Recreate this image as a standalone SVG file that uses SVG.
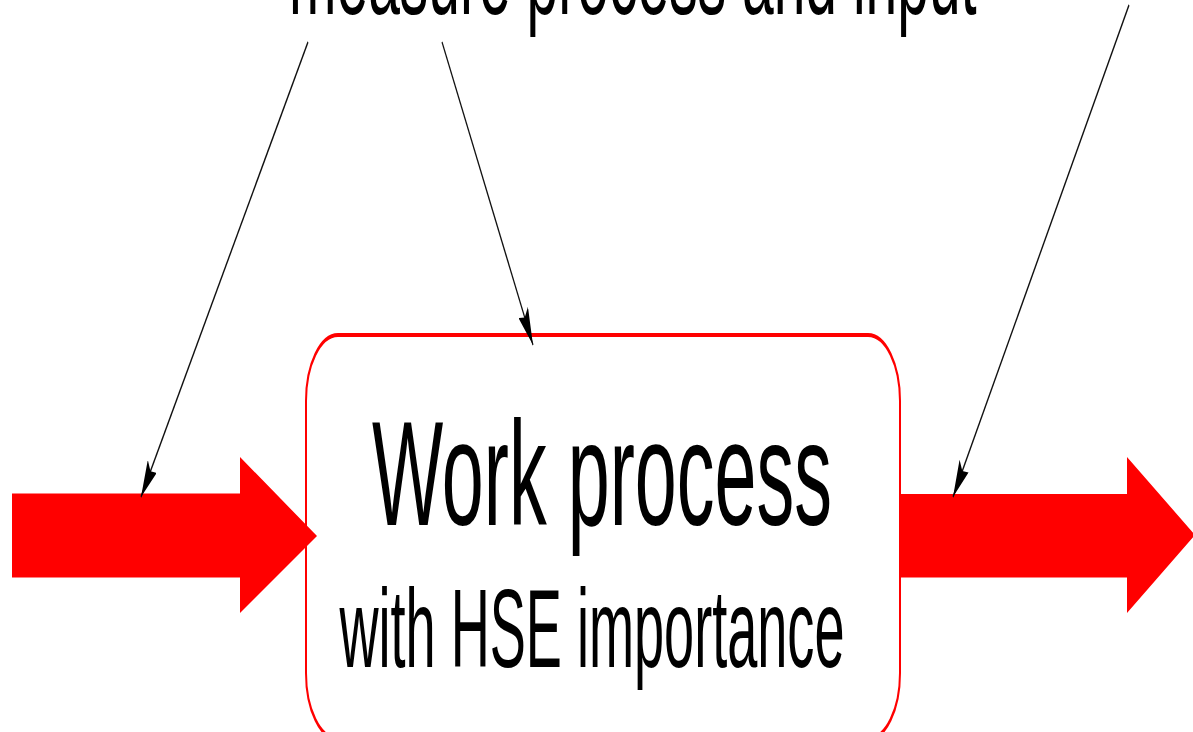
<svg xmlns="http://www.w3.org/2000/svg" width="1193" height="732" viewBox="0 0 1193 732">
<style>
.t{font-family:"Liberation Sans",Arial,sans-serif;fill:#000}
.con{stroke:#111;stroke-width:2.4;fill:none;marker-end:url(#ah)}
.red{fill:#ff0000}
</style>
<defs>
<marker id="ah" viewBox="0 0 38 22" refX="38" refY="11" markerWidth="38" markerHeight="22" markerUnits="userSpaceOnUse" orient="auto">
<path d="M0,0 L38,11 L0,22 L6,11 Z" fill="#000"/>
</marker>
</defs>
<rect width="1193" height="732" fill="#fff"/>
<g transform="scale(0.5 1)">
<g id="top-label">
<text class="t" x="578" y="14" font-size="112" textLength="1375" lengthAdjust="spacingAndGlyphs">measure process and input</text>
</g>
<g id="work-process">
<rect x="612" y="335" width="1188" height="404" rx="64" ry="66" fill="#fff" stroke="#ff0000" stroke-width="4"/>
<text class="t" x="744" y="525" font-size="149" textLength="920" lengthAdjust="spacingAndGlyphs">Work process</text>
<text class="t" x="679" y="667" font-size="112" textLength="1010" lengthAdjust="spacingAndGlyphs">with HSE importance</text>
</g>
<g id="input-arrow">
<polygon class="red" points="24,493.5 480,493.5 480,457 634,536 480,613 480,577.5 24,577.5"/>
</g>
<g id="output-arrow">
<polygon class="red" points="1800,494 2254,494 2254,457 2390,535 2254,613 2254,577.5 1800,577.5"/>
</g>
<g id="connectors">
<line class="con" x1="616" y1="42" x2="282" y2="497"/>
<line class="con" x1="884" y1="42" x2="1066" y2="345"/>
<line class="con" x1="2258" y1="5" x2="1906" y2="497"/>
</g>
</g>
</svg>
